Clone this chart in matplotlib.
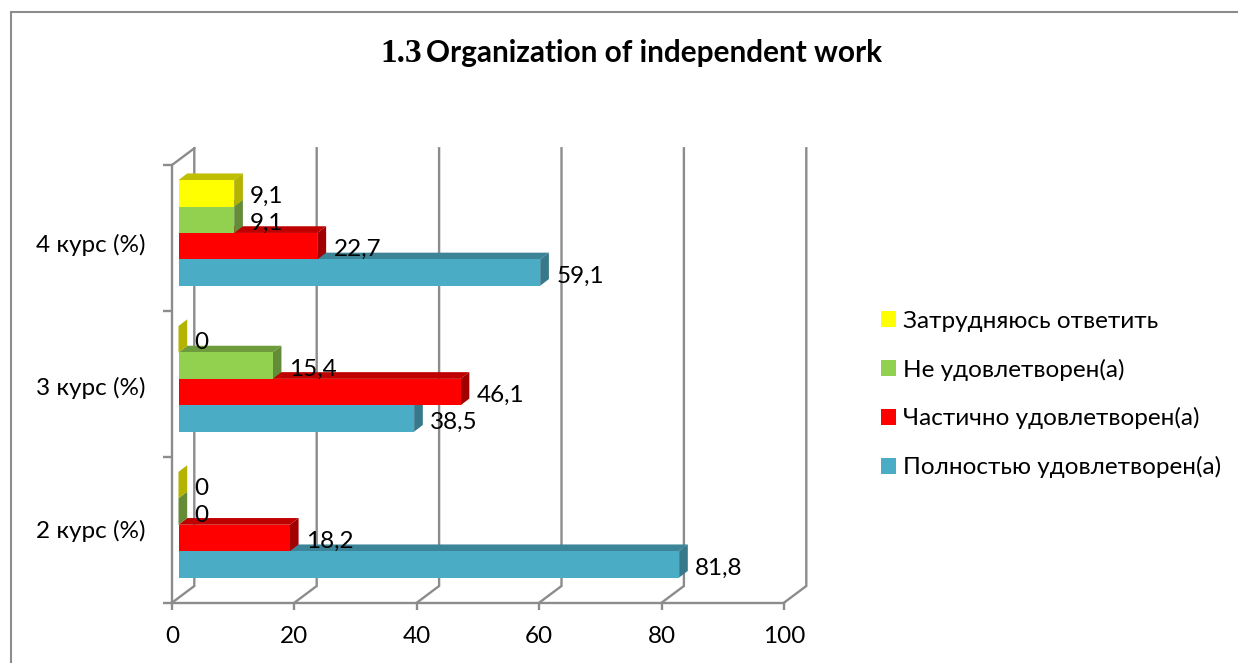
import matplotlib
matplotlib.use("Agg")
import matplotlib.pyplot as plt
from matplotlib.lines import Line2D
from matplotlib.patches import Rectangle, Polygon

W, H = 1238, 663
PX = 0.72  # points per pixel at dpi 100

plt.rcParams['font.family'] = ['Lato', 'Open Sans', 'DejaVu Sans']

categories = ["2 курс (%)", "3 курс (%)", "4 курс (%)"]
series_names = ["Полностью удовлетворен(а)", "Частично удовлетворен(а)",
                "Не удовлетворен(а)", "Затрудняюсь ответить"]
full = [81.8, 38.5, 59.1]
partly = [18.2, 46.1, 22.7]
notsat = [0, 15.4, 9.1]
hard = [0, 0, 9.1]
xticks = [0, 20, 40, 60, 80, 100]

front_cols = ["#4BACC6", "#FF0000", "#92D050", "#FFFF00"]
top_cols = ["#3C8599", "#BF0000", "#6E9C3C", "#BFBF00"]
side_cols = ["#37788B", "#A00000", "#648C38", "#B3B300"]
grey = "#8C8C8C"
FS = 17.5

fig = plt.figure(figsize=(W / 100, H / 100), dpi=100)

# frame of the document chart, only top and left are inside the crop
fig.add_artist(Line2D([11 / W, 11 / W, 1], [0, 1 - 12 / H, 1 - 12 / H], transform=fig.transFigure,
                      color=grey, lw=1.5, solid_joinstyle="miter"))

fig.text(380 / W, 1 - 54 / H, "1.3", family="Liberation Serif", weight="bold", fontsize=24,
         va="center", ha="left")
fig.text(426 / W, 1 - 53 / H, "Organization of independent work", weight="bold", fontsize=21.4,
         va="center", ha="left")

ax = fig.add_axes([172 / W, 1 - 602.7 / H, 612 / W, 437.7 / H])
ax.set_xlim(0, 100)
ax.set_ylim(0, 3)
ax.patch.set_alpha(0)

ux = 100 / 612  # data units per pixel
uy = 3 / 437.7

# back wall
wall_dx, wall_dy = 22.3 * ux, 16.7 * uy
for t in xticks:
    ax.plot([t, t + wall_dx, t + wall_dx], [0, wall_dy, 3 + wall_dy], color=grey, lw=1.7,
            clip_on=False, zorder=1, solid_joinstyle="miter")
ax.plot([0, wall_dx], [3, 3 + wall_dy], color=grey, lw=1.7, clip_on=False, zorder=1)

# bars: front faces sit a little behind the axis plane
front_dx, front_dy = 6.5 * ux, 5.0 * uy
depth_dx, depth_dy = 8.7 * ux, 6.7 * uy
bar_h = 0.181
z = 3
for k, vals in enumerate([full, partly, notsat, hard]):
    for i, v in enumerate(vals):
        y0 = i + 0.5 - 2 * bar_h + k * bar_h + front_dy
        x0 = front_dx
        x1 = x0 + v
        y1 = y0 + bar_h
        if v > 0:
            ax.add_patch(Polygon([(x0, y1), (x1, y1), (x1 + depth_dx, y1 + depth_dy), (x0 + depth_dx, y1 + depth_dy)],
                                 fc=top_cols[k], ec="none", clip_on=False, zorder=z))
        ax.add_patch(Polygon([(x1, y0), (x1, y1), (x1 + depth_dx, y1 + depth_dy), (x1 + depth_dx, y0 + depth_dy)],
                             fc=side_cols[k], ec="none", clip_on=False, zorder=z))
        if v > 0:
            ax.barh(y0 + bar_h / 2, v, height=bar_h, left=x0, color=front_cols[k], zorder=z, clip_on=False)
        ax.annotate(str(v).replace(".", ","), (x1, y0 + bar_h / 2), xytext=(16 * PX, -3.5 * PX),
                    textcoords="offset points", fontsize=FS, va="center", ha="left", zorder=20,
                    annotation_clip=False)
    z += 1

for s in ["top", "right"]:
    ax.spines[s].set_visible(False)
for s in ["left", "bottom"]:
    ax.spines[s].set_color(grey)
    ax.spines[s].set_linewidth(1.7)
ax.set_xticks(xticks)
ax.set_yticks([0, 1, 2, 3])
ax.set_yticklabels([])
ax.tick_params(axis="x", length=7 * PX, width=1.7, color=grey, labelsize=FS, pad=16 * PX)
ax.tick_params(axis="y", length=9 * PX, width=1.7, color=grey)

cat_shift = [1, 4.5, 7]
for i, c in enumerate(categories):
    ax.annotate(c, (0, i + 0.5), xytext=(-26 * PX, -cat_shift[i] * PX), textcoords="offset points",
                fontsize=FS, va="center", ha="right", annotation_clip=False)

handles = [Rectangle((0, 0), 1, 1, fc=c, ec="none") for c in front_cols]
fig.legend(handles[::-1], series_names[::-1], loc="center left",
           bbox_to_anchor=(881 / W, 1 - 394.5 / H), frameon=False, fontsize=FS, borderpad=0,
           borderaxespad=0, labelspacing=1.1, handlelength=0.62, handleheight=0.62,
           handletextpad=0.3)

fig.savefig("out.png", dpi=100)
